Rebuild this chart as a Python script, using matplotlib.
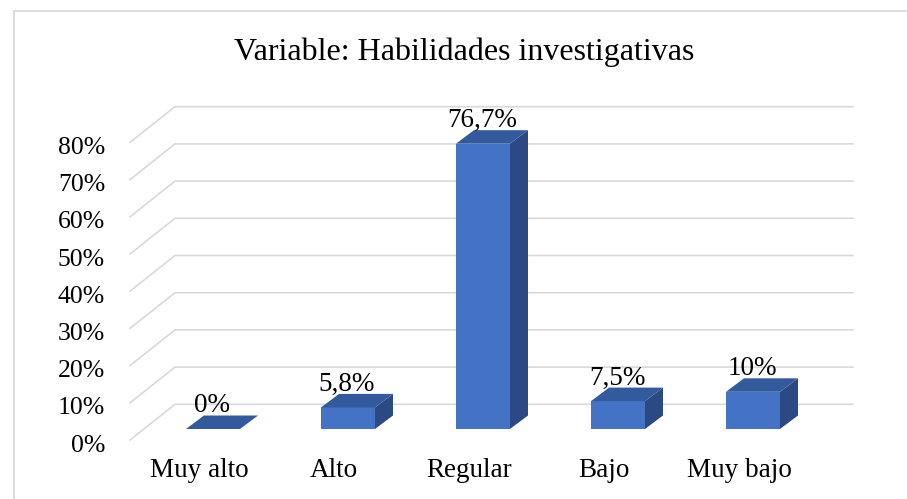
import matplotlib
matplotlib.use("Agg")
import matplotlib.pyplot as plt
from matplotlib.patches import Polygon
from matplotlib.lines import Line2D

# chart data
categories = ['Muy alto', 'Alto', 'Regular', 'Bajo', 'Muy bajo']
values = [0, 5.8, 76.7, 7.5, 10]
value_labels = ['0%', '5,8%', '76,7%', '7,5%', '10%']
tick_values = [0, 10, 20, 30, 40, 50, 60, 70, 80]
tick_labels = ['0%', '10%', '20%', '30%', '40%', '50%', '60%', '70%', '80%']
title = 'Variable: Habilidades investigativas'

plt.rcParams['font.family'] = ['Liberation Serif', 'DejaVu Serif']

W, H = 907, 499
fig = plt.figure(figsize=(W / 100, H / 100), dpi=100)
ax = fig.add_axes([0, 0, 1, 1])

# pixel geometry of the fake 3d view
PX = 135.0      # px per category
PY = 3.72       # px per percent
X0 = 199.0      # pixel x of first category (front)
Y0 = 440.0      # pixel y of 0% (front)
ax.set_xlim(-X0 / PX, (W - X0) / PX)
ax.set_ylim((Y0 - H) / PY, Y0 / PY)
ax.axis('off')

def px(dx):
    return dx / PX

def py(dy):
    return dy / PY

grid_col = '#D9D9D9'
front = '#4472C4'
top = '#335A9C'
side = '#2B4A84'

# gridlines: side wall diagonal + back wall line
xl_front = px(130 - X0)
xl_back = px(175 - X0)
x_right = px(853 - X0)
depth_y = py(35.7)
for v in tick_values:
    ax.plot([xl_front, xl_back, x_right], [v, v + depth_y, v + depth_y],
            color=grid_col, lw=1.2, solid_joinstyle='miter', zorder=1)

# y tick labels
for v, lab in zip(tick_values, tick_labels):
    ax.text(px(105 - X0), v - py(11.6), lab, ha='right', va='baseline',
            fontsize=18.5, color='#000000')

# bars
off_x, off_y = px(14), py(11)
dep_x, dep_y = px(18), py(13.5)
hw = px(27)
for i, (v, lab) in enumerate(zip(values, value_labels)):
    cx = i + off_x
    b = off_y
    l, r = cx - hw, cx + hw
    t = b + v
    face = Polygon([(l, b), (r, b), (r, t), (l, t)], closed=True,
                   facecolor=front, edgecolor='none', zorder=3)
    topf = Polygon([(l, t), (r, t), (r + dep_x, t + dep_y), (l + dep_x, t + dep_y)],
                   closed=True, facecolor=top, edgecolor='none', zorder=3)
    sidef = Polygon([(r, b), (r + dep_x, b + dep_y), (r + dep_x, t + dep_y), (r, t)],
                    closed=True, facecolor=side, edgecolor='none', zorder=3)
    if v > 0:
        ax.add_patch(face)
        ax.add_patch(sidef)
    ax.add_patch(topf)
    ax.text(cx - px(1), t + dep_y + py(3), lab, ha='center', va='baseline',
            fontsize=19.5, color='#000000', zorder=4)

# category labels
for i, c in enumerate(categories):
    ax.text(i, py(Y0 - 477), c, ha='center', va='baseline', fontsize=19.5,
            color='#000000')

fig.text(463.8 / W, 1 - 60 / H, title, ha='center', va='baseline',
         fontsize=23, color='#000000')

# chart border (only top and left are inside the image)
fig.add_artist(Line2D([13.5 / W, 13.5 / W], [0, 1 - 11 / H], color=grid_col, lw=1.3))
fig.add_artist(Line2D([13.5 / W, 1], [1 - 11 / H, 1 - 11 / H], color=grid_col, lw=1.3))

fig.savefig('out.png', dpi=100)
